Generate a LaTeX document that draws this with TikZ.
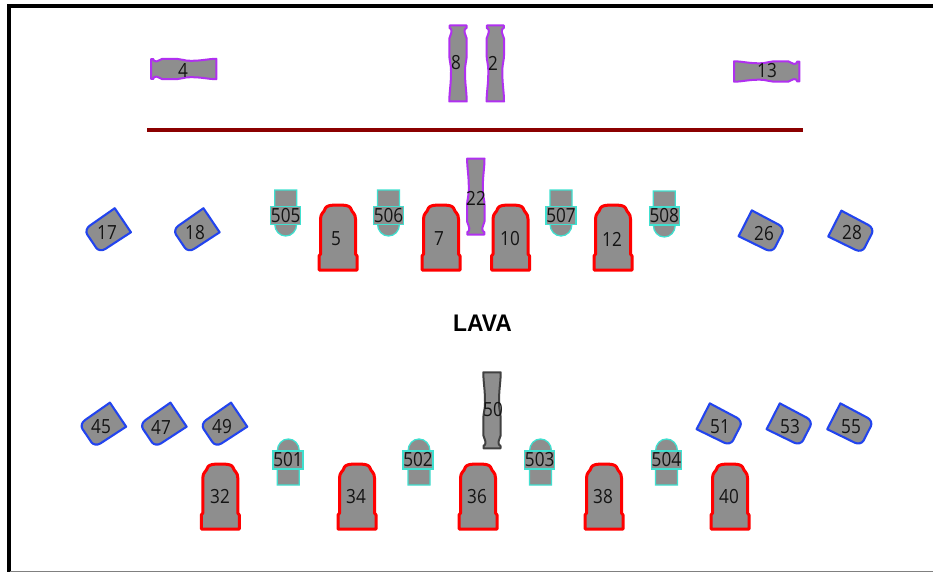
\documentclass[tikz,border=0pt]{standalone}
\usepackage{fontspec}
\setmainfont{Open Sans}
\newfontfamily\lavafont{Liberation Sans}
\definecolor{stonegray}{HTML}{8E8E8E}
\definecolor{redrim}{HTML}{FF0000}
\definecolor{bluerim}{HTML}{2244EE}
\definecolor{purplerim}{HTML}{B030F0}
\definecolor{cyanrim}{HTML}{40E0D0}
\definecolor{wallred}{HTML}{8B0000}
\tikzset{
  x=1pt,y=-1pt,
  lab/.style={inner sep=0pt,font=\fontsize{19.5}{19.5}\selectfont,text=black!92,xscale=.88},
  band/.style={lab,draw=cyanrim,fill=stonegray,line width=1.3pt,minimum width=34pt,minimum height=18pt},
  tall/.pic={\draw[redrim,line width=3pt,fill=stonegray,line join=round]
    (-19,66) -- (19,66) -- (19,52) -- (17.5,50) -- (17.5,15)
    .. controls (17.5,9) and (14,9) .. (12.5,4)
    .. controls (11,1.5) and (7,1) .. (0,1)
    .. controls (-7,1) and (-11,1.5) .. (-12.5,4)
    .. controls (-14,9) and (-17.5,9) .. (-17.5,15)
    -- (-17.5,50) -- (-19,52) -- cycle;},
  vase/.pic={\draw[pic actions,line width=2pt,fill=stonegray,line join=round]
    (-8.5,-38) -- (8.5,-38) -- (8.5,-35.5) .. controls (6.8,-35.5) and (6.5,-33.5) .. (6.5,-31.5)
    .. controls (6.5,-28) and (8.7,-28) .. (8.7,-25) -- (8.7,-8)
    .. controls (8.7,-3) and (7,0) .. (7,8)
    .. controls (7,22) and (8.7,28) .. (8.7,38) -- (-8.7,38)
    .. controls (-8.7,28) and (-7,22) .. (-7,8)
    .. controls (-7,0) and (-8.7,-3) .. (-8.7,-8) -- (-8.7,-25)
    .. controls (-8.7,-28) and (-6.5,-28) .. (-6.5,-31.5)
    .. controls (-6.5,-33.5) and (-6.8,-35.5) .. (-8.5,-35.5) -- cycle;},
  slab/.pic={\draw[bluerim,line width=2.1pt,fill=stonegray,line join=round]
    (-14.5,-18.5) -- (14.5,-18.5) -- (14,12)
    .. controls (14,16) and (11,19) .. (8,19) -- (-8,19)
    .. controls (-11,19) and (-14,16) .. (-14,12) -- cycle;},
  dome/.pic={\draw[cyanrim,line width=1.3pt,fill=stonegray]
    (-11,-25) -- (11,-25) -- (11,9)
    .. controls (11,16) and (6,21) .. (0,21)
    .. controls (-6,21) and (-11,16) .. (-11,9) -- cycle;},
  vasepurple/.style={draw=purplerim},
  vaseblack/.style={draw=black!75}
}
\begin{document}
\begin{tikzpicture}
\useasboundingbox (0,0) rectangle (933,572);
% frame
\draw[black,line width=3.6pt] (933,6.2) -- (8.7,6.2) -- (8.7,572);
\draw[black!50,line width=1pt] (10,571.5) -- (933,571.5);
% wall
\draw[wallred,line width=3.8pt] (147,130.3) -- (803,130.3);
% upper vases
\pic[vasepurple,rotate=90,xscale=1.17,yscale=.86] at (183.7,69) {vase};
\pic[vasepurple] at (458,63.5) {vase};
\pic[vasepurple] at (495.3,63.5) {vase};
\pic[vasepurple,rotate=-90,xscale=1.17,yscale=.86] at (766.7,71.5) {vase};
\pic[vasepurple,rotate=180] at (475.8,196.6) {vase};
\pic[vaseblack,rotate=180] at (492,410.3) {vase};
% tall stones
\foreach \px/\py in {338/204,441/204,510.5/204,613/204,220.3/463,357/463,478/463,604/463,730/463}
  \pic at (\px,\py) {tall};
% slabs
\foreach \px/\py in {107.5/230.6,196.2/230.6,102.7/425,163.2/425,223.8/425}
  \pic[rotate=-56] at (\px,\py) {slab};
\foreach \px/\py in {761.7/231.7,851.3/232,719.7/424.7,789.7/424.7,850.3/424.7}
  \pic[rotate=63] at (\px,\py) {slab};
% domes
\foreach \px/\py in {285.7/215,388.5/215,561/215,664.3/216}
  \pic at (\px,\py) {dome};
\foreach \px/\py in {288.3/460,419/460,540.5/460,666.5/460}
  \pic[rotate=180] at (\px,\py) {dome};
% labels
\node[lab] (n4) at (183,71) {4};
\node[lab] (n8) at (456,63) {8};
\node[lab] (n2) at (493,63) {2};
\node[lab] (n13) at (767,71) {13};
\node[lab] (n22) at (476,198) {22};
\node[lab] (n50) at (493,410) {50};
\node[lab] (n5) at (336,239) {5};
\node[lab] (n7) at (439,239) {7};
\node[lab] (n10) at (510,239) {10};
\node[lab] (n12) at (612,239) {12};
\node[lab] (n32) at (220,497) {32};
\node[lab] (n34) at (356,497) {34};
\node[lab] (n36) at (477,497) {36};
\node[lab] (n38) at (603,497) {38};
\node[lab] (n40) at (729,497) {40};
\node[lab] (n17) at (107,233) {17};
\node[lab] (n18) at (195,233) {18};
\node[lab] (n26) at (764,234) {26};
\node[lab] (n28) at (852,233) {28};
\node[lab] (n45) at (101,427) {45};
\node[lab] (n47) at (161,427) {47};
\node[lab] (n49) at (222,427) {49};
\node[lab] (n51) at (720,427) {51};
\node[lab] (n53) at (790,427) {53};
\node[lab] (n55) at (851,427) {55};
\node[band] (n505) at (285.7,215.2) {505};
\node[band] (n506) at (388.5,215.2) {506};
\node[band] (n507) at (561,215.2) {507};
\node[band] (n508) at (664.3,216) {508};
\node[band] (n501) at (288,460) {501};
\node[band] (n502) at (418,460) {502};
\node[band] (n503) at (539.7,460) {503};
\node[band] (n504) at (666.4,460) {504};
\node[inner sep=0pt,font=\lavafont\bfseries\fontsize{24}{24}\selectfont,text=black,xscale=.95] (lava) at (482.5,323) {LAVA};
\end{tikzpicture}
\end{document}
